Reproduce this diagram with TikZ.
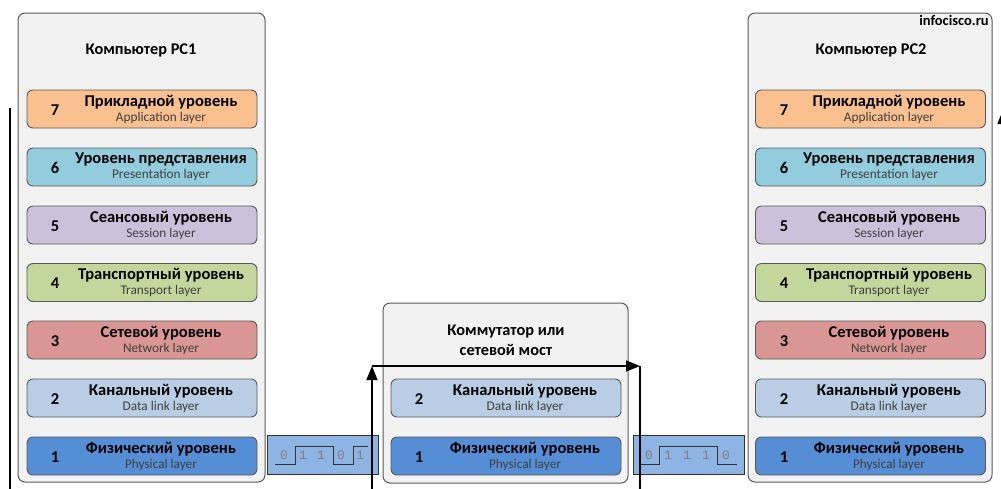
\documentclass[tikz,border=0pt]{standalone}
\usepackage{fontspec}
\setmainfont{Carlito}
\newfontfamily\bitfont{Liberation Mono}
\usetikzlibrary{arrows.meta}

\definecolor{boxfill}{HTML}{F2F2F2}
\definecolor{boxline}{HTML}{595959}
\definecolor{appcol}{HTML}{FAC090}
\definecolor{prescol}{HTML}{93CDDD}
\definecolor{sesscol}{HTML}{CCC1DA}
\definecolor{transcol}{HTML}{C3D69B}
\definecolor{netcol}{HTML}{D99694}
\definecolor{linkcol}{HTML}{B9CDE5}
\definecolor{physcol}{HTML}{558ED5}
\definecolor{pktcol}{HTML}{8EB4E3}
\definecolor{engcol}{HTML}{404040}

\newcommand{\eng}[1]{{\fontsize{13.3}{13}\selectfont\mdseries\color{engcol}#1}}

\begin{document}
\begin{tikzpicture}[x=1pt, y=-1pt,
    device/.style={draw=boxline, fill=boxfill, line width=1pt, rounded corners=7pt},
    layer/.style={draw=boxline, line width=0.9pt, rounded corners=6pt, minimum width=230pt, minimum height=38pt, inner sep=0pt},
    lnum/.style={font=\fontsize{16.5}{16}\selectfont\bfseries},
    ltxt/.style={align=center, font=\fontsize{16.5}{15}\selectfont\bfseries},
    title/.style={align=center, font=\fontsize{16.3}{20}\selectfont\bfseries},
    packet/.style={draw=black!80, fill=pktcol, line width=0.8pt, minimum width=111pt, minimum height=39pt, inner sep=0pt},
    bit/.style={font=\fontsize{13}{13}\selectfont\bitfont, text=black!50},
    flow/.style={line width=1.6pt, black}]
    \useasboundingbox (0,0) rectangle (1001,488);

    % Devices
    \node[device, minimum width=247pt, minimum height=469pt] (pc1) at (141.5,247.5) {};
    \node[device, minimum width=245pt, minimum height=180pt] (sw) at (505.5,393) {};
    \node[device, minimum width=244pt, minimum height=469pt] (pc2) at (870,247.5) {};

    \node[title] (pc1-name) at (141,50) {Компьютер PC1};
    \node[title] (sw-name) at (506,340) {Коммутатор или\\сетевой мост};
    \node[title] (pc2-name) at (871,50) {Компьютер PC2};
    \node[font=\fontsize{14.5}{14}\selectfont\bfseries] (site) at (954,20) {infocisco.ru};

    % PC1 layers
    \node[layer, fill=appcol] (pc1-l7) at (142,109) {};
    \node[layer, fill=prescol] (pc1-l6) at (142,167) {};
    \node[layer, fill=sesscol] (pc1-l5) at (142,225) {};
    \node[layer, fill=transcol] (pc1-l4) at (142,282.5) {};
    \node[layer, fill=netcol] (pc1-l3) at (142,340) {};
    \node[layer, fill=linkcol] (pc1-l2) at (142,398) {};
    \node[layer, fill=physcol] (pc1-l1) at (142,456) {};

    \node[lnum] (pc1-n7) at (55,110) {7};
    \node[lnum] (pc1-n6) at (55,168) {6};
    \node[lnum] (pc1-n5) at (55,226) {5};
    \node[lnum] (pc1-n4) at (55,283.5) {4};
    \node[lnum] (pc1-n3) at (55,341) {3};
    \node[lnum] (pc1-n2) at (55,399) {2};
    \node[lnum] (pc1-n1) at (55,457) {1};

    \node[ltxt] (pc1-t7) at (161,109) {Прикладной уровень\\\eng{Application layer}};
    \node[ltxt] (pc1-t6) at (161,167) {Уровень представления\\\eng{Presentation layer}};
    \node[ltxt] (pc1-t5) at (161,225) {Сеансовый уровень\\\eng{Session layer}};
    \node[ltxt] (pc1-t4) at (161,282.5) {Транспортный уровень\\\eng{Transport layer}};
    \node[ltxt] (pc1-t3) at (161,340) {Сетевой уровень\\\eng{Network layer}};
    \node[ltxt] (pc1-t2) at (161,398) {Канальный уровень\\\eng{Data link layer}};
    \node[ltxt] (pc1-t1) at (161,456) {Физический уровень\\\eng{Physical layer}};

    % Switch layers
    \node[layer, fill=linkcol] (sw-l2) at (506,398) {};
    \node[layer, fill=physcol] (sw-l1) at (506,456) {};
    \node[lnum] (sw-n2) at (419,399) {2};
    \node[lnum] (sw-n1) at (419,457) {1};
    \node[ltxt] (sw-t2) at (525,398) {Канальный уровень\\\eng{Data link layer}};
    \node[ltxt] (sw-t1) at (525,456) {Физический уровень\\\eng{Physical layer}};

    % PC2 layers
    \node[layer, fill=appcol] (pc2-l7) at (870.5,109) {};
    \node[layer, fill=prescol] (pc2-l6) at (870.5,167) {};
    \node[layer, fill=sesscol] (pc2-l5) at (870.5,225) {};
    \node[layer, fill=transcol] (pc2-l4) at (870.5,282.5) {};
    \node[layer, fill=netcol] (pc2-l3) at (870.5,340) {};
    \node[layer, fill=linkcol] (pc2-l2) at (870.5,398) {};
    \node[layer, fill=physcol] (pc2-l1) at (870.5,456) {};

    \node[lnum] (pc2-n7) at (784,110) {7};
    \node[lnum] (pc2-n6) at (784,168) {6};
    \node[lnum] (pc2-n5) at (784,226) {5};
    \node[lnum] (pc2-n4) at (784,283.5) {4};
    \node[lnum] (pc2-n3) at (784,341) {3};
    \node[lnum] (pc2-n2) at (784,399) {2};
    \node[lnum] (pc2-n1) at (784,457) {1};

    \node[ltxt] (pc2-t7) at (889,109) {Прикладной уровень\\\eng{Application layer}};
    \node[ltxt] (pc2-t6) at (889,167) {Уровень представления\\\eng{Presentation layer}};
    \node[ltxt] (pc2-t5) at (889,225) {Сеансовый уровень\\\eng{Session layer}};
    \node[ltxt] (pc2-t4) at (889,282.5) {Транспортный уровень\\\eng{Transport layer}};
    \node[ltxt] (pc2-t3) at (889,340) {Сетевой уровень\\\eng{Network layer}};
    \node[ltxt] (pc2-t2) at (889,398) {Канальный уровень\\\eng{Data link layer}};
    \node[ltxt] (pc2-t1) at (889,456) {Физический уровень\\\eng{Physical layer}};

    % Bits on the wire
    \node[packet] (pkt1) at (323,454.5) {};
    \draw[line width=0.8pt, black!80] (275,464) -- (295,464) -- (295,446) -- (333,446) -- (333,464) -- (353,464) -- (353,446) -- (368,446);
    \node[bit] (pkt1-b1) at (284,455) {0};
    \node[bit] (pkt1-b2) at (303,455) {1};
    \node[bit] (pkt1-b3) at (321,455) {1};
    \node[bit] (pkt1-b4) at (341,455) {0};
    \node[bit] (pkt1-b5) at (360,455) {1};

    \node[packet] (pkt2) at (688.5,454.5) {};
    \draw[line width=0.8pt, black!80] (640,464) -- (659,464) -- (659,446) -- (717,446) -- (717,464) -- (737,464);
    \node[bit] (pkt2-b1) at (649,455) {0};
    \node[bit] (pkt2-b2) at (668,455) {1};
    \node[bit] (pkt2-b3) at (687,455) {1};
    \node[bit] (pkt2-b4) at (706,455) {1};
    \node[bit] (pkt2-b5) at (726,455) {0};

    % Data path
    \coordinate (pc1-down-top) at (10,108);
    \coordinate (pc1-down-end) at (10,492);
    \coordinate (sw-in) at (372,492);
    \coordinate (sw-up) at (372,366);
    \coordinate (sw-over) at (640,366);
    \coordinate (sw-out) at (640,492);
    \coordinate (pc2-up-start) at (1003,492);
    \coordinate (pc2-up-end) at (1003,110);

    \draw[flow] (pc1-down-top) -- (pc1-down-end);
    \draw[flow, -{Triangle[length=14pt, width=11pt]}] (sw-in) -- (sw-up);
    \draw[flow, -{Triangle[length=14pt, width=11pt]}] (sw-up) -- (sw-over);
    \draw[flow] (sw-over) -- (sw-out);
    \draw[flow, -{Triangle[length=14pt, width=11pt]}] (pc2-up-start) -- (pc2-up-end);
\end{tikzpicture}
\end{document}
